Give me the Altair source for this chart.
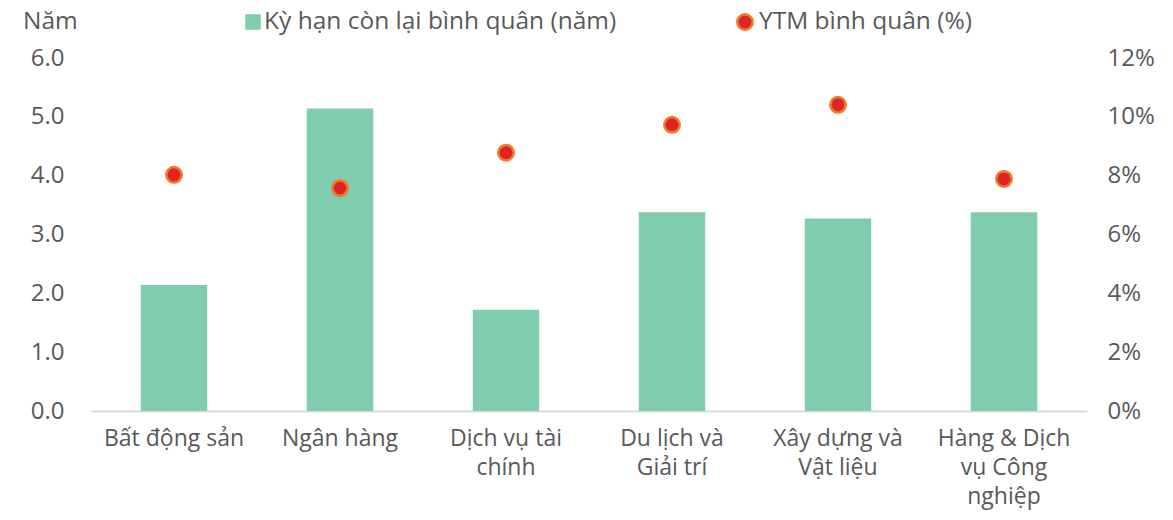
import altair as alt
import pandas as pd

categories = ["Bất động sản", "Ngân hàng", "Dịch vụ tài|chính", "Du lịch và|Giải trí",
              "Xây dựng và|Vật liệu", "Hàng & Dịch|vụ Công|nghiệp"]
tenor_years = [2.14, 5.14, 1.72, 3.38, 3.27, 3.38]
ytm_pct = [0.0803, 0.0758, 0.0878, 0.0973, 0.1041, 0.0789]
legend_labels = ["Kỳ hạn còn lại bình quân (năm)", "YTM bình quân (%)"]
left_title = "Năm"

BAR = "#7FCCAE"
RED = "#E02424"
ORANGE = "#F07A2E"
GRAY = "#595959"
FONT = "Open Sans"

df = pd.DataFrame({"cat": categories, "tenor": tenor_years, "ytm": ytm_pct})

x_enc = alt.X("cat:N", sort=categories, title=None,
              scale=alt.Scale(paddingInner=0.6, paddingOuter=0.3),
              axis=alt.Axis(labelExpr="split(datum.value, '|')", labelAngle=0,
                            labelFontSize=23, labelColor=GRAY, labelFont=FONT,
                            labelLineHeight=29, labelPadding=16, ticks=False,
                            domainColor="#D9D9D9", domainWidth=2, labelLimit=300))

bars = alt.Chart(df).mark_bar(color=BAR).encode(
    x=x_enc,
    y=alt.Y("tenor:Q", title=None,
            scale=alt.Scale(domain=[0, 6], nice=False),
            axis=alt.Axis(values=[0, 1, 2, 3, 4, 5, 6], format=".1f", grid=False,
                          ticks=False, domain=False, labelFontSize=24, labelColor=GRAY,
                          labelFont=FONT, labelPadding=27, orient="left")),
)

points = alt.Chart(df).mark_circle(size=240, color=RED, stroke=ORANGE, strokeWidth=2.5, opacity=1).encode(
    x=alt.X("cat:N", sort=categories),
    y=alt.Y("ytm:Q", title=None,
            scale=alt.Scale(domain=[0, 0.12], nice=False),
            axis=alt.Axis(values=[0, 0.02, 0.04, 0.06, 0.08, 0.10, 0.12], format=".0%",
                          grid=False, ticks=False, domain=False, labelFontSize=24,
                          labelColor=GRAY, labelFont=FONT, labelPadding=20, orient="right")),
)

LEG_Y = -36
LEG_FS = 24.5
title_txt = alt.Chart(pd.DataFrame({"t": [left_title]})).mark_text(
    align="left", baseline="middle", fontSize=LEG_FS, color=GRAY, font=FONT).encode(
    x=alt.value(-68), y=alt.value(LEG_Y), text="t:N")

leg1 = alt.Chart(pd.DataFrame({"t": [legend_labels[0]]}))
sq = leg1.mark_square(size=240, color=BAR, opacity=1).encode(x=alt.value(162), y=alt.value(LEG_Y))
sq_t = leg1.mark_text(align="left", baseline="middle", fontSize=LEG_FS, color=GRAY, font=FONT).encode(
    x=alt.value(173), y=alt.value(LEG_Y), text="t:N")

leg2 = alt.Chart(pd.DataFrame({"t": [legend_labels[1]]}))
ci = leg2.mark_circle(size=240, color=RED, stroke=ORANGE, strokeWidth=2.5, opacity=1).encode(
    x=alt.value(654), y=alt.value(LEG_Y))
ci_t = leg2.mark_text(align="left", baseline="middle", fontSize=LEG_FS, color=GRAY, font=FONT).encode(
    x=alt.value(668), y=alt.value(LEG_Y), text="t:N")

chart = alt.layer(bars, points, title_txt, sq, sq_t, ci, ci_t).resolve_scale(
    y="independent"
).properties(
    width=996, height=353,
    autosize=alt.AutoSizeParams(type="none"),
    padding={"left": 83, "top": 50, "right": 74, "bottom": 101},
    background="white",
).configure_view(strokeWidth=0, stroke="transparent")

chart.save("out.html", embed_options={"renderer": "svg", "actions": False})
